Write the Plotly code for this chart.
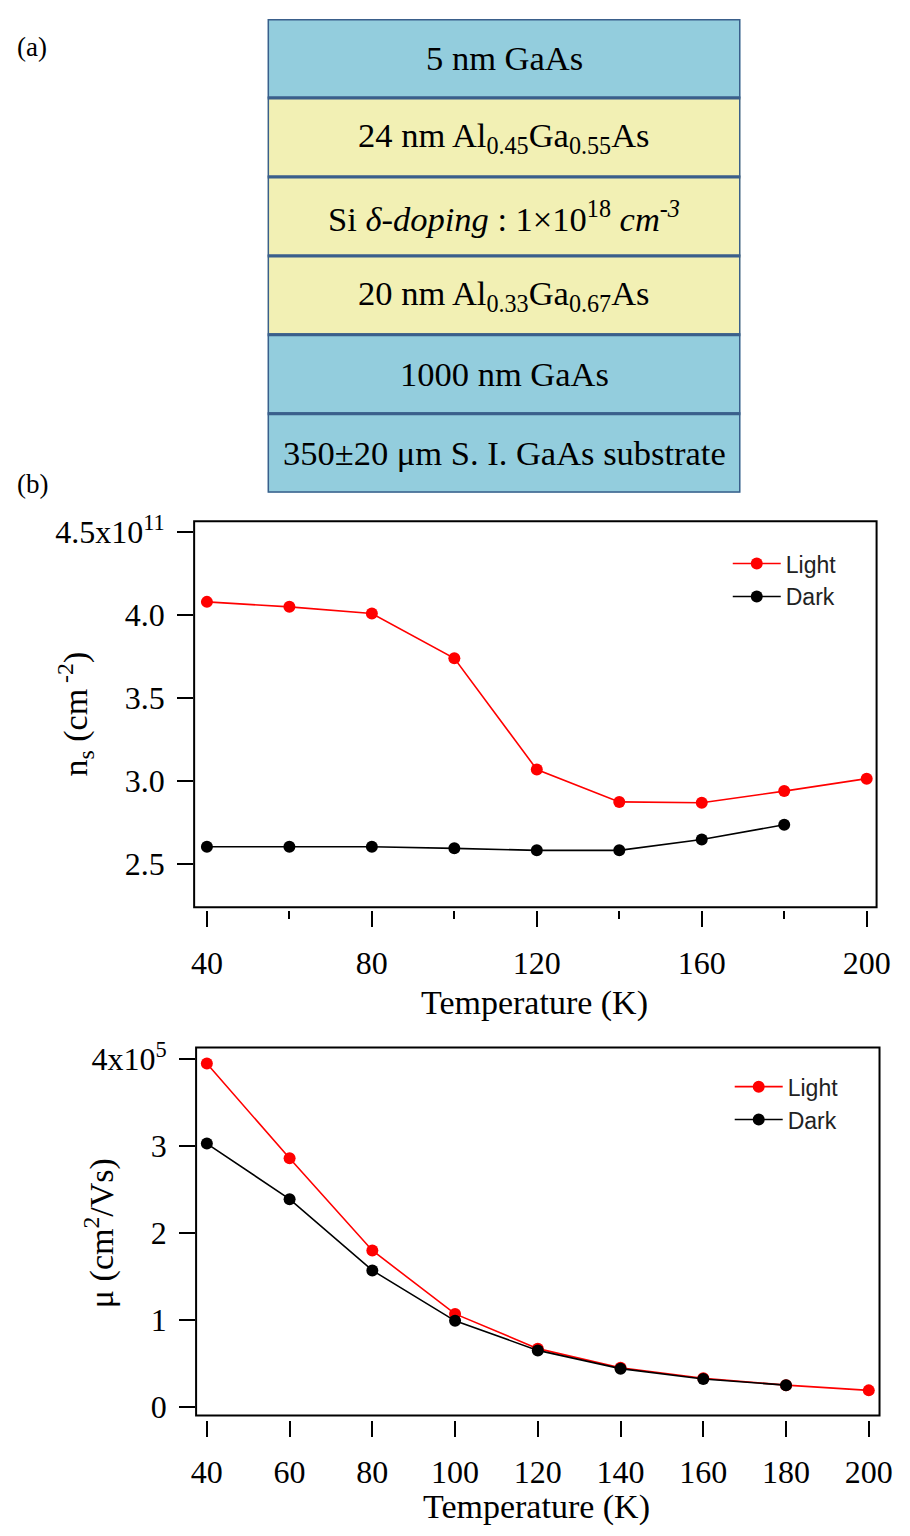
import plotly.graph_objects as go

# ---------------- data ----------------
layers = [
    "5 nm GaAs",
    "24 nm Al<sub>0.45</sub>Ga<sub>0.55</sub>As",
    "Si <i>δ-doping</i> : 1×10<sup>18</sup> <i>cm</i><sup><i>-3</i></sup>",
    "20 nm Al<sub>0.33</sub>Ga<sub>0.67</sub>As",
    "1000 nm GaAs",
    "350±20 μm S. I. GaAs substrate",
]
layer_kind = ["GaAs", "AlGaAs", "AlGaAs", "AlGaAs", "GaAs", "GaAs"]

temp_light = [40, 60, 80, 100, 120, 140, 160, 180, 200]
temp_dark = [40, 60, 80, 100, 120, 140, 160, 180]

ns_light = [4.08, 4.05, 4.01, 3.74, 3.07, 2.875, 2.87, 2.94, 3.015]   # x1e11 cm^-2
ns_dark = [2.605, 2.605, 2.605, 2.595, 2.583, 2.583, 2.648, 2.737]

mu_light = [3.95, 2.86, 1.80, 1.07, 0.67, 0.45, 0.33, 0.25, 0.19]     # x1e5 cm^2/Vs
mu_dark = [3.03, 2.39, 1.57, 0.99, 0.65, 0.44, 0.32, 0.25]

ns_tickvals = [2.5, 3.0, 3.5, 4.0, 4.5]
ns_ticktext = ["2.5", "3.0", "3.5", "4.0", "4.5x10<sup>11</sup>"]
mu_tickvals = [0, 1, 2, 3, 4]
mu_ticktext = ["0", "1", "2", "3", "4x10<sup>5</sup>"]

# ---------------- styling ----------------
W, H = 910, 1536
OFF = 8  # page body margin of the rendered html
SERIF = "Liberation Serif, Times New Roman, serif"
SANS = "Liberation Sans, Arial, sans-serif"
RED = "#FF0000"
BLACK = "#000000"
fill_color = {"GaAs": "#93CDDD", "AlGaAs": "#F2F0B4"}
BORDER = "#3A5F8B"


def clamp(v):
    return max(0.0, min(1.0, v))


def px_x(p):
    return clamp((p - OFF) / W)


def px_y(p):
    return clamp(1 - (p - OFF) / H)


fig = go.Figure()


def add_series(x, y, color, name, xa, ya, legend):
    fig.add_trace(go.Scatter(
        x=x, y=y, mode="lines+markers", name=name,
        line=dict(color=color, width=1.6),
        marker=dict(color=color, size=12, symbol="circle"),
        xaxis=xa, yaxis=ya, legend=legend,
    ))


add_series(temp_light, ns_light, RED, "Light", "x", "y", "legend")
add_series(temp_dark, ns_dark, BLACK, "Dark", "x", "y", "legend")
add_series(temp_light, mu_light, RED, "Light", "x2", "y2", "legend2")
add_series(temp_dark, mu_dark, BLACK, "Dark", "x2", "y2", "legend2")

# plot frames (pixel geometry)
top_box = dict(l=193, r=890, t=517, b=908)
bot_box = dict(l=195, r=893, t=1050, b=1423)

tickfont = dict(family=SERIF, size=32, color="black")

common_x = dict(
    anchor="free", showline=False, showgrid=False, zeroline=False,
    ticks="outside", tickwidth=2, tickcolor="black", tickfont=tickfont,
    ticklabelstandoff=8,
)
common_y = dict(
    showline=False, showgrid=False, zeroline=False,
    ticks="outside", tickwidth=2, tickcolor="black", ticklen=16,
    tickfont=tickfont, ticklabelstandoff=6,
)

fig.update_layout(
    width=W, height=H,
    margin=dict(l=0, r=0, t=0, b=0),
    paper_bgcolor="white", plot_bgcolor="white",
    showlegend=True,
    xaxis=dict(
        domain=[px_x(top_box["l"]), px_x(top_box["r"])],
        range=[36.9, 202.4],
        position=px_y(top_box["b"] + 3),
        tickvals=[40, 80, 120, 160, 200], ticklen=16,
        minor=dict(tickvals=[60, 100, 140, 180], ticklen=8, tickwidth=2,
                   tickcolor="black", ticks="outside"),
        **common_x,
    ),
    yaxis=dict(
        domain=[px_y(top_box["b"]), px_y(top_box["t"])],
        range=[2.24, 4.565], anchor="x",
        tickvals=ns_tickvals, ticktext=ns_ticktext,
        **common_y,
    ),
    xaxis2=dict(
        domain=[px_x(bot_box["l"]), px_x(bot_box["r"])],
        range=[37.4, 202.6],
        position=px_y(bot_box["b"] + 4),
        tickvals=temp_light, ticklen=16,
        **common_x,
    ),
    yaxis2=dict(
        domain=[px_y(bot_box["b"]), px_y(bot_box["t"])],
        range=[-0.10, 4.136], anchor="x2",
        tickvals=mu_tickvals, ticktext=mu_ticktext,
        **common_y,
    ),
    # hidden axes for the layer stack diagram
    xaxis3=dict(domain=[px_x(268), px_x(751)], range=[0, 1], visible=False,
                anchor="y3", fixedrange=True),
    yaxis3=dict(domain=[px_y(488), px_y(4)], range=[len(layers), 0], visible=False,
                anchor="x3", fixedrange=True),
    legend=dict(
        x=px_x(738), y=px_y(538), xanchor="left", yanchor="top",
        bgcolor="rgba(0,0,0,0)", borderwidth=0,
        font=dict(family=SANS, size=23, color="#222"),
        itemwidth=48, tracegroupgap=0,
    ),
    legend2=dict(
        x=px_x(740), y=px_y(1068), xanchor="left", yanchor="top",
        bgcolor="rgba(0,0,0,0)", borderwidth=0,
        font=dict(family=SANS, size=23, color="#222"),
        itemwidth=48, tracegroupgap=0,
    ),
)

shapes = []
# frames around data plots
for xr, yr in (("x domain", "y domain"), ("x2 domain", "y2 domain")):
    shapes.append(dict(type="rect", xref=xr, yref=yr, x0=0, x1=1, y0=0, y1=1,
                       line=dict(color="black", width=2), fillcolor="rgba(0,0,0,0)",
                       layer="above"))

annotations = []
# layer stack
for i, (txt, kind) in enumerate(zip(layers, layer_kind)):
    shapes.append(dict(type="rect", xref="x3", yref="y3", x0=0, x1=1, y0=i, y1=i + 1,
                       fillcolor=fill_color[kind], line=dict(color=BORDER, width=3),
                       layer="below"))
    annotations.append(dict(x=0.5, y=i + 0.5, xref="x3", yref="y3", text=txt,
                            showarrow=False, xanchor="center", yanchor="middle",
                            font=dict(family=SERIF, size=34.5, color="black")))

# panel labels
annotations.append(dict(x=px_x(10), y=px_y(36), xref="paper", yref="paper", text="(a)",
                        showarrow=False, xanchor="left", yanchor="middle",
                        font=dict(family=SERIF, size=27, color="black")))
annotations.append(dict(x=px_x(10), y=px_y(479), xref="paper", yref="paper", text="(b)",
                        showarrow=False, xanchor="left", yanchor="middle",
                        font=dict(family=SERIF, size=27, color="black")))

# axis titles
title_font = dict(family=SERIF, size=34, color="black")
annotations.append(dict(x=px_x(541), y=px_y(1005), xref="paper", yref="paper",
                        text="Temperature (K)", showarrow=False, font=title_font,
                        xanchor="center", yanchor="middle"))
annotations.append(dict(x=px_x(543), y=px_y(1516), xref="paper", yref="paper",
                        text="Temperature (K)", showarrow=False, font=title_font,
                        xanchor="center", yanchor="middle"))
annotations.append(dict(x=px_x(72), y=px_y(712), xref="paper", yref="paper",
                        text="n<sub>s</sub> (cm<sup> -2</sup>)", showarrow=False,
                        font=title_font, textangle=-90, xanchor="center", yanchor="middle"))
annotations.append(dict(x=px_x(97), y=px_y(1238), xref="paper", yref="paper",
                        text="μ (cm<sup>2</sup>/Vs)", showarrow=False,
                        font=title_font, textangle=-90, xanchor="center", yanchor="middle"))

fig.update_layout(shapes=shapes, annotations=annotations)

fig.write_html("out.html", config={"staticPlot": True, "displayModeBar": False})
